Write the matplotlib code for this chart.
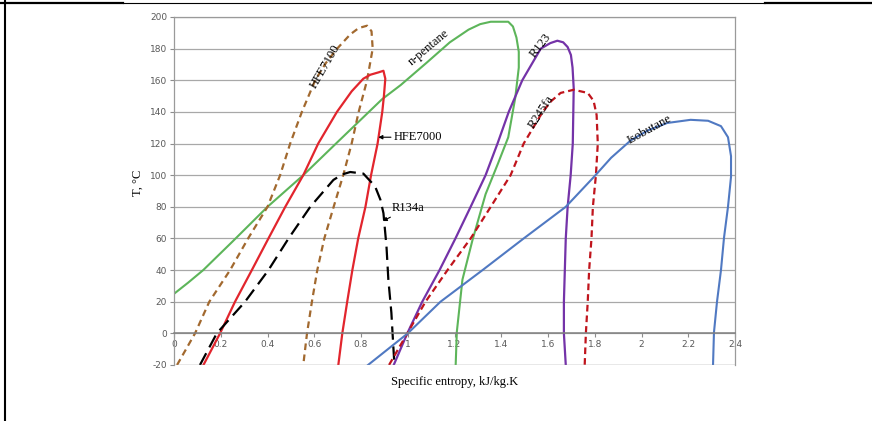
import matplotlib
matplotlib.use("Agg")
import matplotlib.pyplot as plt
from matplotlib.lines import Line2D

plt.rcParams["axes.unicode_minus"] = False

# traced T-s saturation domes (s in kJ/kg.K, T in degC)
pentane_s = [0.0, 0.06, 0.125, 0.25, 0.40, 0.553, 0.70, 0.89, 0.97, 1.08, 1.18, 1.26, 1.31, 1.355, 1.43,
             1.45, 1.465, 1.475, 1.475, 1.46, 1.43, 1.385, 1.333, 1.277, 1.234, 1.21, 1.205]
pentane_T = [25, 32, 40, 58, 80, 100, 121, 148, 157, 171, 184, 192, 195.5, 197, 197,
             194, 187, 178, 168, 149, 124, 107, 88, 59, 34, 1, -20]

hfe7100_s = [0.013, 0.09, 0.151, 0.24, 0.317, 0.40, 0.454, 0.497, 0.547, 0.604, 0.65, 0.698, 0.754,
             0.79, 0.826, 0.845, 0.85, 0.826, 0.79, 0.76, 0.724, 0.683, 0.643, 0.613, 0.59, 0.569, 0.553]
hfe7100_T = [-20, 0, 20, 40, 60, 80, 100, 120, 140, 160, 171, 180, 189,
             193, 194.5, 191, 180, 160, 140, 120, 100, 80, 60, 40, 20, 0, -20]

hfe7000_s = [0.126, 0.197, 0.261, 0.333, 0.404, 0.476, 0.553, 0.617, 0.697, 0.76, 0.81, 0.84, 0.875,
             0.896, 0.904, 0.898, 0.891, 0.871, 0.843, 0.819, 0.788, 0.763, 0.741, 0.72, 0.703]
hfe7000_T = [-20, 0, 20, 40, 60, 80, 100, 120, 140, 153, 161, 163.5, 165,
             166, 161, 150, 140, 120, 100, 80, 60, 40, 20, 0, -20]

r134a_s = [0.111, 0.183, 0.304, 0.404, 0.49, 0.583, 0.682, 0.72, 0.754, 0.81, 0.86, 0.883,
           0.896, 0.909, 0.917, 0.93, 0.935, 0.943]
r134a_T = [-20, 0, 20, 40, 60, 80, 97, 100.5, 102, 101, 93, 84.5,
           76, 55, 34, 13, 0, -20]

r123_s = [0.94, 0.998, 1.062, 1.136, 1.204, 1.269, 1.333, 1.384, 1.432, 1.49, 1.569, 1.61, 1.64,
          1.665, 1.684, 1.698, 1.705, 1.71, 1.706, 1.697, 1.684, 1.676, 1.672, 1.668, 1.668, 1.676]
r123_T = [-20, 0, 20, 40, 60, 80, 100, 120, 140, 160, 180, 183.5, 185,
          184, 181, 176, 168, 155, 120, 100, 80, 60, 40, 20, 0, -20]

r245fa_s = [0.92, 0.998, 1.076, 1.17, 1.269, 1.355, 1.44, 1.496, 1.577, 1.615, 1.654, 1.71, 1.77,
            1.795, 1.808, 1.813, 1.805, 1.792, 1.786, 1.776, 1.77, 1.762, 1.757]
r245fa_T = [-20, 0, 20, 40, 60, 80, 100, 120, 140, 147, 152, 154, 152,
            147, 138, 120, 100, 80, 60, 40, 20, 0, -20]

isobutane_s = [0.83, 1.0, 1.14, 1.32, 1.496, 1.676, 1.797, 1.87, 1.954, 2.03, 2.11, 2.21, 2.285,
               2.34, 2.37, 2.383, 2.383, 2.37, 2.353, 2.34, 2.323, 2.31, 2.306]
isobutane_T = [-20, 0, 20, 40, 60, 80, 99, 111, 122, 128.5, 133, 135, 134.4,
               131, 124, 112, 99, 80, 60.5, 40, 20, 0.6, -20]

x_ticks = [0, 0.2, 0.4, 0.6, 0.8, 1.0, 1.2, 1.4, 1.6, 1.8, 2.0, 2.2, 2.4]
x_labels = ["0", "0.2", "0.4", "0.6", "0.8", "1", "1.2", "1.4", "1.6", "1.8", "2", "2.2", "2.4"]
y_ticks = list(range(-20, 201, 20))

W, H = 872, 421
fig = plt.figure(figsize=(W / 100, H / 100), dpi=100)
ax = fig.add_axes([174 / W, 1 - 365 / H, (735 - 174) / W, (365 - 17) / H])

ax.plot(pentane_s, pentane_T, color="#5DB55A", lw=1.5)
ax.plot(hfe7100_s, hfe7100_T, color="#A2692F", lw=1.6, dashes=(3, 2))
ax.plot(hfe7000_s, hfe7000_T, color="#E2252D", lw=1.6)
ax.plot(r134a_s, r134a_T, color="black", lw=1.6, dashes=(6, 3))
ax.plot(r123_s, r123_T, color="#7433A8", lw=1.6)
ax.plot(r245fa_s, r245fa_T, color="#C0141C", lw=1.6, dashes=(3, 1.8))
ax.plot(isobutane_s, isobutane_T, color="#5079C2", lw=1.5)

ax.set_xlim(0, 2.4)
ax.set_ylim(-20, 200)
ax.set_yticks(y_ticks)
ax.set_xticks(x_ticks)
ax.set_xticklabels(x_labels)
ax.grid(axis="y", color="#A8A8A8", lw=0.9)
ax.set_axisbelow(True)

for side in ["top", "right", "left"]:
    ax.spines[side].set_color("#9A9A9A")
    ax.spines[side].set_linewidth(0.9)
ax.spines["bottom"].set_position(("data", 0))
ax.spines["bottom"].set_color("#808080")
ax.spines["bottom"].set_linewidth(1.1)
ax.axhline(-20, color="#9A9A9A", lw=0.9)

ax.tick_params(axis="both", labelsize=6.5, labelcolor="#595959", colors="#8C8C8C",
               length=3, width=0.8, pad=2)

serif = "Liberation Serif"
ax.text(0.647, 169, "HFE7100", rotation=60, ha="center", va="center", fontsize=9, family=serif)
ax.text(1.089, 180.4, "n-pentane", rotation=40, ha="center", va="center", fontsize=9, family=serif)
ax.text(1.569, 181.7, "R123", rotation=52, ha="center", va="center", fontsize=9, family=serif)
ax.text(1.569, 140, "R245fa", rotation=57, ha="center", va="center", fontsize=9, family=serif)
ax.text(2.032, 128.7, "Isobutane", rotation=29, ha="center", va="center", fontsize=9, family=serif)
ax.annotate("HFE7000", xy=(0.874, 124), xytext=(0.94, 124), ha="left", va="center",
            fontsize=9, family=serif,
            arrowprops=dict(arrowstyle="-|>", color="black", lw=0.8, mutation_scale=6,
                            shrinkA=0, shrinkB=0))
ax.annotate("R134a", xy=(0.893, 71), xytext=(0.93, 79), ha="left", va="center",
            fontsize=9, family=serif,
            arrowprops=dict(arrowstyle="-|>", color="black", lw=0.8, mutation_scale=6,
                            shrinkA=0, shrinkB=0))

fig.text(138 / W, 1 - 183 / H, "T, °C", rotation=90, ha="center", va="center",
         fontsize=9, family=serif)
fig.text(455 / W, 1 - 382 / H, "Specific entropy, kJ/kg.K", ha="center", va="center",
         fontsize=9, family=serif)

# page border lines from the source document
fig.add_artist(Line2D([5 / W, 5 / W], [0, 1], transform=fig.transFigure, color="black", lw=1.5))
yt = 1 - 3 / H
fig.add_artist(Line2D([0, 123 / W], [yt, yt], transform=fig.transFigure, color="black", lw=1.6))
fig.add_artist(Line2D([123 / W, 765 / W], [yt, yt], transform=fig.transFigure, color="black", lw=0.8))
fig.add_artist(Line2D([765 / W, 1], [yt, yt], transform=fig.transFigure, color="black", lw=1.6))

fig.savefig("out.png", dpi=100)
